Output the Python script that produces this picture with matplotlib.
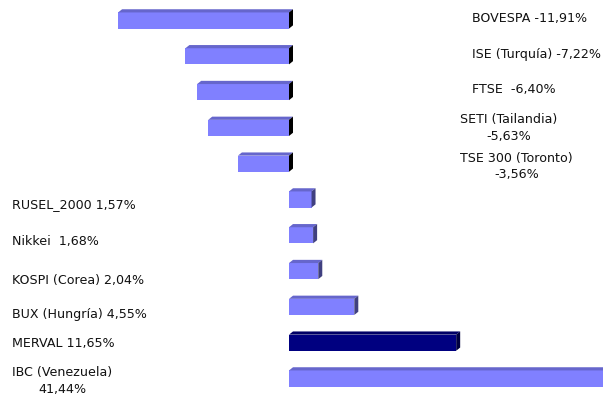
import matplotlib.pyplot as plt
from matplotlib.patches import Polygon

# datos: variación de índices bursátiles (%)
names = ['BOVESPA -11,91%', 'ISE (Turquía) -7,22%', 'FTSE  -6,40%',
         'SETI (Tailandia)\n-5,63%', 'TSE 300 (Toronto)\n-3,56%',
         'RUSEL_2000 1,57%', 'Nikkei  1,68%', 'KOSPI (Corea) 2,04%',
         'BUX (Hungría) 4,55%', 'MERVAL 11,65%', 'IBC (Venezuela)\n41,44%']
values = [-11.91, -7.22, -6.40, -5.63, -3.56, 1.57, 1.68, 2.04, 4.55, 11.65, 41.44]
highlight = 'MERVAL 11,65%'

# ajuste vertical de cada etiqueta respecto a su barra
label_dy = [-0.05, -0.05, -0.08, 0.0, 0.08, 0.13, 0.16, 0.25, 0.2, 0.03, 0.07]

fig = plt.figure(figsize=(6.03, 4.01), dpi=100)
ax = fig.add_axes([0, 0, 1, 1])

px = 14.35  # pixeles por unidad
ax.set_xlim(-289 / px, (603 - 289) / px)
ax.set_ylim((401 - 20.5) / 35.8, -20.5 / 35.8)
ax.axis('off')

h = 0.45          # alto de la cara frontal
dx = 4 / px       # profundidad horizontal
dy = 3.2 / 35.8   # profundidad vertical

for i, (name, v) in enumerate(zip(names, values)):
    if name == highlight:
        front, top, side = '#000080', '#000066', '#000040'
    else:
        front, top, side = '#8080FF', '#6666CC', '#404080'
    if v < 0:
        side = '#000000'
    ax.barh(i, v, height=h, color=front, edgecolor='none', zorder=2)
    x0, x1 = min(0, v), max(0, v)
    yt = i - h / 2
    ax.add_patch(Polygon([(x0, yt), (x1, yt), (x1 + dx, yt - dy), (x0 + dx, yt - dy)],
                         closed=True, facecolor=top, edgecolor='none', zorder=2))
    ax.add_patch(Polygon([(x1, yt), (x1 + dx, yt - dy), (x1 + dx, yt + h - dy), (x1, yt + h)],
                         closed=True, facecolor=side, edgecolor='none', zorder=2))

    multi = '\n' in name
    if v < 0:
        xt = (460 - 289) / px if multi else (472 - 289) / px
    else:
        xt = (12 - 289) / px
    ax.text(xt, i + label_dy[i], name, ha='left', va='center', multialignment='center',
            fontsize=9.1, color='#111111', linespacing=1.35)

fig.savefig('out.png', dpi=100)
